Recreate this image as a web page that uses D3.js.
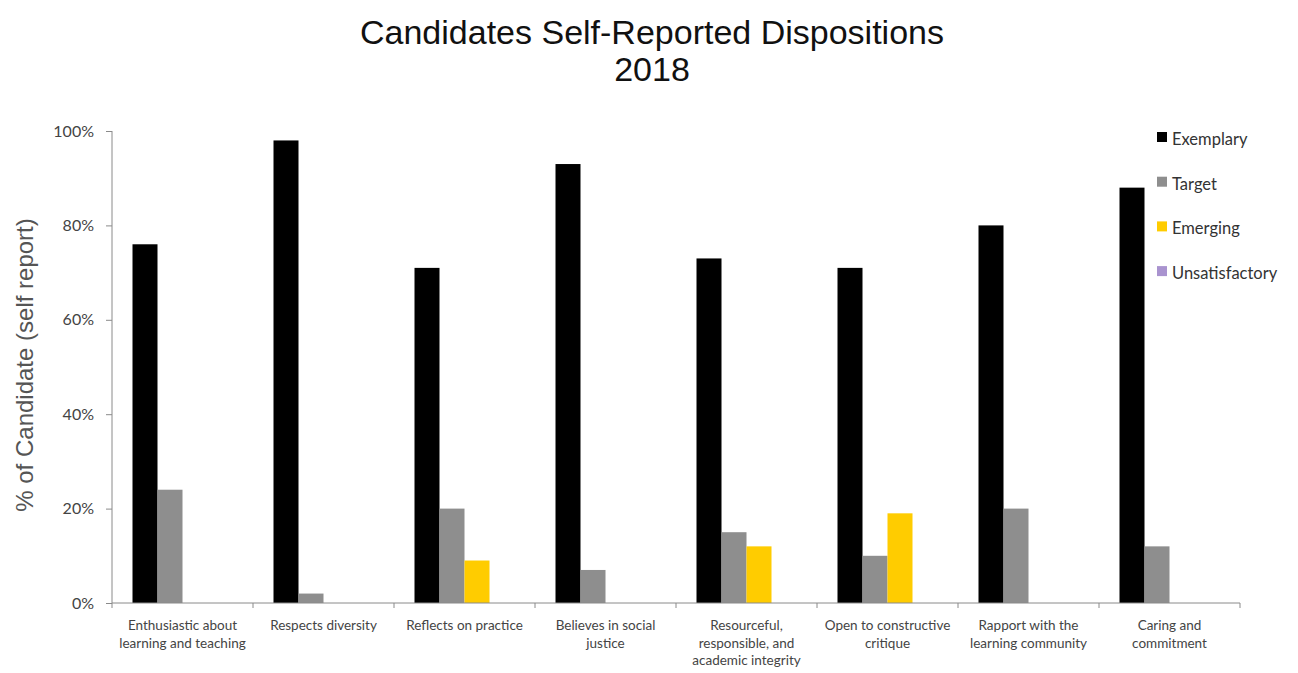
<!DOCTYPE html>
<html>
<head>
<meta charset="utf-8">
<script src="https://cdn.jsdelivr.net/npm/d3@7"></script>
<style>
  html, body { margin: 0; padding: 0; background: #fff; }
  svg { display: block; }
</style>
</head>
<body>
<svg id="chart" width="1298" height="673"></svg>
<script>
// Disposition categories (label lines) and self-reported percentages per rating level
const categories = [
  ["Enthusiastic about", "learning and teaching"],
  ["Respects diversity"],
  ["Reflects on practice"],
  ["Believes in social", "justice"],
  ["Resourceful,", "responsible, and", "academic integrity"],
  ["Open to constructive", "critique"],
  ["Rapport with the", "learning community"],
  ["Caring and", "commitment"]
];
const seriesNames = ["Exemplary", "Target", "Emerging", "Unsatisfactory"];
const exemplary      = [76, 98, 71, 93, 73, 71, 80, 88];
const target         = [24, 2, 20, 7, 15, 10, 20, 12];
const emerging       = [0, 0, 9, 0, 12, 19, 0, 0];
const unsatisfactory = [0, 0, 0, 0, 0, 0, 0, 0];
const seriesColors = ["#000000", "#8e8e8e", "#ffcc00", "#a993cf"];
const yTicks = [0, 20, 40, 60, 80, 100];

const series = [exemplary, target, emerging, unsatisfactory];
const svg = d3.select("#chart");

const plot = { left: 112, right: 1240, top: 131, bottom: 603 };

const x = d3.scaleBand()
  .domain(d3.range(categories.length))
  .range([plot.left, plot.right])
  .paddingInner(0)
  .paddingOuter(0);

const xs = d3.scaleBand()
  .domain(d3.range(seriesNames.length))
  .range([0, x.bandwidth()])
  .paddingOuter(0.82)
  .paddingInner(0);

const y = d3.scaleLinear().domain([0, 100]).range([plot.bottom, plot.top]);

// Title
const title = svg.append("text")
  .attr("text-anchor", "middle")
  .style("font-family", "'Liberation Sans', Arial, sans-serif")
  .style("font-size", "34px").attr("fill", "#111");
title.append("tspan").attr("x", 652).attr("y", 44).text("Candidates Self-Reported Dispositions");
title.append("tspan").attr("x", 652).attr("y", 81).text("2018");

// Bars
const groups = svg.append("g").selectAll("g")
  .data(categories.map((c, i) => i))
  .join("g")
  .attr("transform", i => `translate(${x(i)},0)`);

groups.selectAll("rect")
  .data(i => series.map((s, k) => ({ k, v: s[i] })))
  .join("rect")
  .attr("x", d => xs(d.k))
  .attr("width", xs.bandwidth())
  .attr("y", d => y(d.v))
  .attr("height", d => y(0) - y(d.v))
  .attr("fill", d => seriesColors[d.k]);

// Y axis
const yAxis = d3.axisLeft(y)
  .tickValues(yTicks)
  .tickFormat(d => d + "%")
  .tickSize(6)
  .tickPadding(12);
const gy = svg.append("g").attr("transform", `translate(${plot.left},0)`).call(yAxis);
gy.select(".domain").attr("stroke", "#8a8a8a").attr("d", `M0,${plot.top}V${plot.bottom}`);
gy.selectAll(".tick line").attr("stroke", "#8a8a8a");
gy.selectAll(".tick text")
  .style("font-family", "Lato, 'Open Sans', sans-serif")
  .style("font-size", "16px").attr("fill", "#444");

// X axis with tick marks at category boundaries
const gx = svg.append("g").attr("transform", `translate(0,${plot.bottom})`);
gx.append("line")
  .attr("x1", plot.left).attr("x2", plot.right)
  .attr("stroke", "#8a8a8a");
gx.selectAll("line.tk")
  .data(d3.range(categories.length + 1))
  .join("line").attr("class", "tk")
  .attr("x1", i => i < categories.length ? x(i) : plot.right)
  .attr("x2", i => i < categories.length ? x(i) : plot.right)
  .attr("y1", 0).attr("y2", 5)
  .attr("stroke", "#8a8a8a");

const labels = gx.selectAll("text.cat")
  .data(categories)
  .join("text").attr("class", "cat")
  .attr("text-anchor", "middle")
  .style("font-family", "Lato, 'Open Sans', sans-serif")
  .style("font-size", "13.5px")
  .attr("fill", "#444");
labels.each(function(lines, i) {
  const t = d3.select(this);
  lines.forEach((ln, j) => {
    t.append("tspan")
      .attr("x", x(i) + x.bandwidth() / 2)
      .attr("y", 27 + j * 17.5)
      .text(ln);
  });
});

// Y axis title
svg.append("text")
  .attr("transform", "translate(33,365) rotate(-90)")
  .attr("text-anchor", "middle")
  .style("font-family", "'Liberation Sans', Arial, sans-serif")
  .style("font-size", "24px")
  .attr("fill", "#555")
  .text("% of Candidate (self report)");

// Legend
const legend = svg.append("g").selectAll("g")
  .data(seriesNames)
  .join("g")
  .attr("transform", (d, i) => `translate(1157,${137 + i * 44.7})`);
legend.append("rect")
  .attr("x", 0).attr("y", -5)
  .attr("width", 10).attr("height", 10)
  .attr("fill", (d, i) => seriesColors[i]);
legend.append("text")
  .attr("x", 15).attr("y", 8)
  .style("font-family", "Lato, 'Open Sans', sans-serif")
  .style("font-size", "16.5px")
  .attr("fill", "#333")
  .text(d => d);
</script>
</body>
</html>
